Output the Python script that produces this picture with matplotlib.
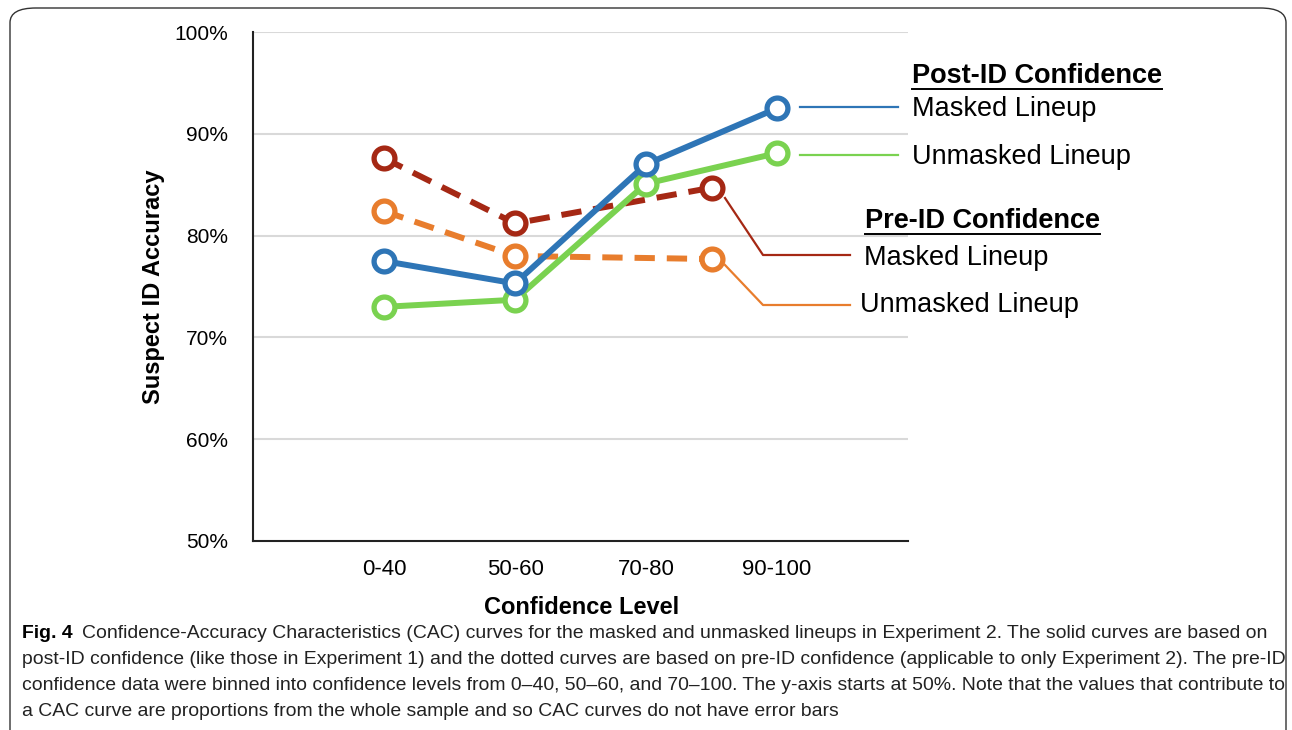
import matplotlib
matplotlib.use('Agg')
from matplotlib import pyplot as plt
from matplotlib.patches import FancyBboxPatch
from matplotlib.lines import Line2D

plt.rcParams['font.family'] = ['Liberation Sans', 'DejaVu Sans']

levels = ['0-40', '50-60', '70-80', '90-100']
xpos = [1, 2, 3, 4]
pre_x = [1, 2, 3.5]

post_masked = [77.5, 75.3, 87.0, 92.5]
post_unmasked = [73.0, 73.7, 85.1, 88.1]
pre_masked = [87.6, 81.2, 84.7]
pre_unmasked = [82.4, 78.0, 77.7]

yticks = [50, 60, 70, 80, 90, 100]

blue = '#2E75B6'
green = '#7AD250'
darkred = '#A52814'
orange = '#E87D2D'

fig = plt.figure(figsize=(12.92, 7.3), dpi=100)

# rounded frame around the whole figure
frame = FancyBboxPatch((10 / 1292, -0.05), 1276 / 1292, 1 - 8 / 730 + 0.05,
                       boxstyle='round,pad=0,rounding_size=0.02',
                       transform=fig.transFigure, fill=False,
                       edgecolor='#333333', linewidth=1.0)
fig.patches.append(frame)

ax = fig.add_axes([253 / 1292, 1 - 541 / 730, 655 / 1292, 509 / 730])
ax.set_xlim(0, 5)
ax.set_ylim(50, 100)

for g in yticks[1:]:
    ax.axhline(g, color='#d9d9d9', linewidth=1.5, zorder=0)

mk = dict(marker='o', markersize=15, markerfacecolor='white', markeredgewidth=3.8)
ax.plot(pre_x, pre_unmasked, color=orange, linewidth=4.3, linestyle=(0, (3.4, 2.0)),
        markeredgecolor=orange, **mk, zorder=3)
ax.plot(pre_x, pre_masked, color=darkred, linewidth=4.3, linestyle=(0, (3.4, 2.0)),
        markeredgecolor=darkred, **mk, zorder=3)
ax.plot(xpos, post_unmasked, color=green, linewidth=4.3, markeredgecolor=green, **mk, zorder=4)
ax.plot(xpos, post_masked, color=blue, linewidth=4.3, markeredgecolor=blue, **mk, zorder=5)

ax.set_xticks(xpos)
ax.set_xticklabels(levels, fontsize=16)
ax.set_yticks(yticks)
ax.set_yticklabels(['%d%%' % v for v in yticks], fontsize=15)
ax.tick_params(axis='both', length=0)
ax.tick_params(axis='x', pad=13)
ax.tick_params(axis='y', pad=18)
for s in ['top', 'right']:
    ax.spines[s].set_visible(False)
for s in ['left', 'bottom']:
    ax.spines[s].set_linewidth(1.5)
    ax.spines[s].set_color('#222222')

ax.set_xlabel('Confidence Level', fontsize=17, fontweight='bold')
ax.set_ylabel('Suspect ID Accuracy', fontsize=17, fontweight='bold')
ax.xaxis.set_label_coords(0.502, -0.108)
ax.yaxis.set_label_coords(-0.135, 0.5)


def px(x, y):
    # figure pixel (from top-left) -> figure fraction
    return x / 1292, 1 - y / 730


def flines(xs, ys, color, lw=1.6):
    pts = [px(a, b) for a, b in zip(xs, ys)]
    fig.add_artist(Line2D([p[0] for p in pts], [p[1] for p in pts],
                          color=color, linewidth=lw, transform=fig.transFigure))


renderer = fig.canvas.get_renderer()
lfs = 19.5


def header(x, y, s):
    t = fig.text(*px(x, y), s, fontsize=lfs, fontweight='bold', ha='left', va='center')
    bb = t.get_window_extent(renderer)
    w = bb.width
    flines([x, x + w], [y + 13, y + 13], 'black', lw=1.4)


header(912, 76, 'Post-ID Confidence')
flines([800, 898], [107, 107], blue)
fig.text(*px(912, 109), 'Masked Lineup', fontsize=lfs, ha='left', va='center')
flines([800, 898], [155, 155], green)
fig.text(*px(912, 157), 'Unmasked Lineup', fontsize=lfs, ha='left', va='center')

header(865, 221, 'Pre-ID Confidence')
flines([725, 763, 850], [198, 255, 255], darkred)
fig.text(*px(864, 258), 'Masked Lineup', fontsize=lfs, ha='left', va='center')
flines([725, 763, 850], [265, 305, 305], orange)
fig.text(*px(860, 305), 'Unmasked Lineup', fontsize=lfs, ha='left', va='center')

# caption
capfont = ['Liberation Sans Narrow', 'Liberation Sans', 'DejaVu Sans']
caption = [
    'Confidence-Accuracy Characteristics (CAC) curves for the masked and unmasked lineups in Experiment 2. The solid curves are based on',
    'post-ID confidence (like those in Experiment 1) and the dotted curves are based on pre-ID confidence (applicable to only Experiment 2). The pre-ID',
    'confidence data were binned into confidence levels from 0\u201340, 50\u201360, and 70\u2013100. The y-axis starts at 50%. Note that the values that contribute to',
    'a CAC curve are proportions from the whole sample and so CAC curves do not have error bars',
]
cap_y = [633, 659, 685, 711]

# fit font size so the second line spans the measured width
probe = fig.text(0, 0, caption[1], fontsize=10, family=capfont)
w10 = probe.get_window_extent(renderer).width
probe.remove()
capsize = 10 * 1262 / w10

fig_t = fig.text(*px(22, cap_y[0]), 'Fig. 4', fontsize=capsize, fontweight='bold',
                 family=capfont, ha='left', va='center')
fx = 22 + fig_t.get_window_extent(renderer).width + 9
fig.text(*px(fx, cap_y[0]), caption[0], fontsize=capsize, family=capfont,
         ha='left', va='center', color='#222222')
for line, yy in zip(caption[1:], cap_y[1:]):
    fig.text(*px(22, yy), line, fontsize=capsize, family=capfont,
             ha='left', va='center', color='#222222')

fig.savefig('out.png', dpi=100)
